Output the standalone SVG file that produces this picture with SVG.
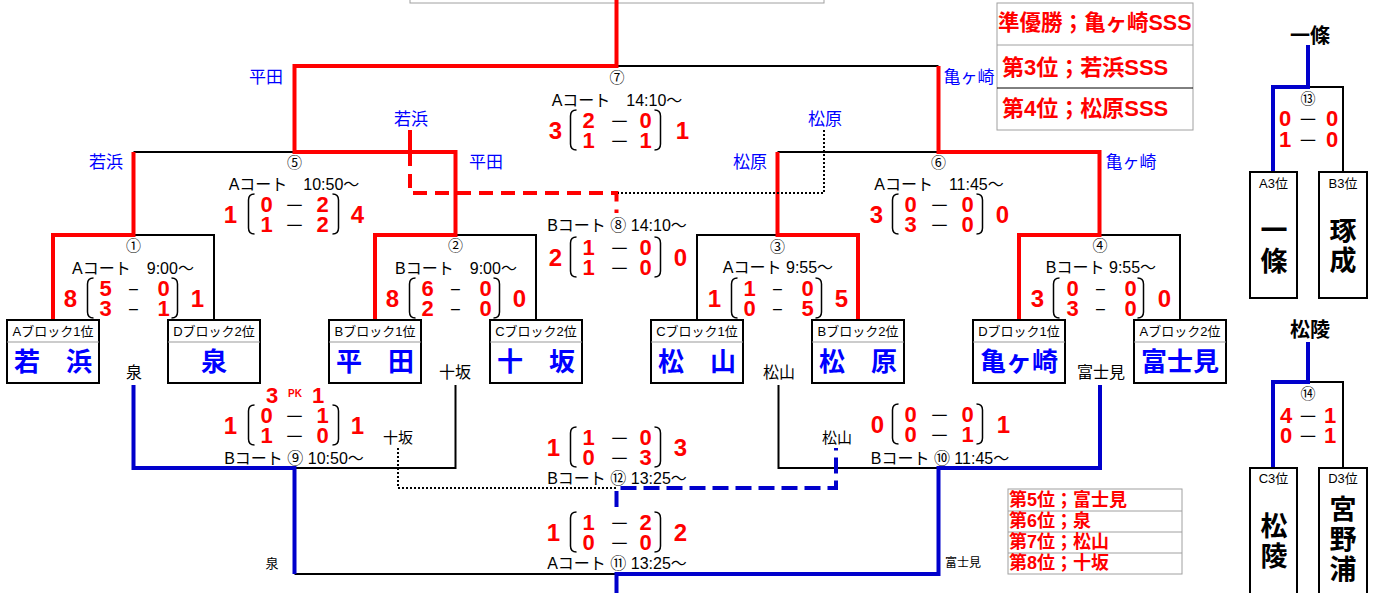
<svg xmlns="http://www.w3.org/2000/svg" width="1378" height="593" viewBox="0 0 1378 593">
<style>
text{font-family:"Liberation Sans","Noto Sans CJK JP",sans-serif;text-anchor:middle;dominant-baseline:central}
.r{stroke:#ff0000;stroke-width:4;fill:none}
.k{stroke:#000;stroke-width:2;fill:none}
.b{stroke:#0000cc;stroke-width:4;fill:none}
.rd{stroke:#ff0000;stroke-width:4;fill:none;stroke-dasharray:14 8}
.bd{stroke:#0000cc;stroke-width:4;fill:none;stroke-dasharray:16 7}
.dt{stroke:#000;stroke-width:2;fill:none;stroke-dasharray:2 2}
.box{fill:#fff;stroke:#000;stroke-width:2}
.hd{stroke:#999;stroke-width:1}
.br{stroke:#000;stroke-width:1.5;fill:none}
.gb{fill:#fff;stroke:#a0a0a0;stroke-width:1}
.sc{fill:#ff0000;font-weight:bold;font-size:22px}
.so{fill:#ff0000;font-weight:bold;font-size:24px}
.ds{font-size:20px;fill:#000;font-weight:normal;font-family:"Noto Sans CJK JP",sans-serif}
.dm{font-size:16px;fill:#000;font-weight:normal}
.pk{fill:#ff0000;font-weight:bold;font-size:10px}
.ct{font-size:16px;fill:#000}
.cn{font-size:15px;fill:#000}
.bl{font-size:17px;fill:#0000ff}
.lb{font-size:16px;fill:#000}
.hdr{font-size:13px;fill:#000}
.nm{font-size:26px;font-weight:bold;fill:#0000ff}
.vn{font-size:27px;font-weight:bold;fill:#000}
.tt{font-size:20px;font-weight:bold;fill:#000}
.rk{fill:#ff0000;font-weight:bold;text-anchor:start}
</style>

<rect class="gb" x="410" y="-10" width="414" height="13" fill="none"/>

<g id="connectors">
  <path class="k" d="M133.5 235 H214 V320"/>
  <path class="k" d="M455.5 235 H536 V320"/>
  <path class="k" d="M697 320 V235 H777.5"/>
  <path class="k" d="M1099.5 235 H1180 V320"/>
  <path class="k" d="M133.5 152 H294.5"/>
  <path class="k" d="M777.5 152 H938.5"/>
  <path class="k" d="M616.5 66 H938.5"/>
  <path class="r" d="M53 320 V235 H133.5 V152"/>
  <path class="r" d="M375 320 V235 H455.5 V152 H294.5 V66 H616.5 V0"/>
  <path class="r" d="M858 320 V235 H777.5 V152"/>
  <path class="r" d="M1019 320 V235 H1099.5 V152 H938.5 V66"/>
  <path class="r" d="M410 130 V152"/>
  <path class="rd" d="M410 152 V193 H616.5 V213"/>
  <path class="dt" d="M824 130 V193 H618"/>
  <path class="k" d="M294.5 468 H455.5 V385"/>
  <path class="k" d="M778.5 385 V468 H938.5"/>
  <path class="k" d="M294.5 574 H616.5"/>
  <path class="b" d="M133.5 385 V468 H294.5 V574"/>
  <path class="b" d="M1100 385 V468 H938.5 V574 H616.5 V593"/>
  <path class="dt" d="M398 448 V488 H616.5"/>
  <path class="bd" d="M616.5 507 V488 H836 V448"/>
  <path class="k" d="M1308 87 H1343 V172"/>
  <path class="b" d="M1308 45 V87 H1273 V172"/>
  <path class="k" d="M1308 382 H1343 V468"/>
  <path class="b" d="M1308 342 V382 H1273 V468"/>
</g>

<g id="team-wakahama"><rect class="box" x="7" y="320" width="92" height="63"/><line class="hd" x1="7" y1="342" x2="99" y2="342"/><text class="hdr" x="53" y="331">Aブロック1位</text><text class="nm" x="53" y="362">若　浜</text></g>
<g id="team-izumi"><rect class="box" x="168" y="320" width="92" height="63"/><line class="hd" x1="168" y1="342" x2="260" y2="342"/><text class="hdr" x="214" y="331">Dブロック2位</text><text class="nm" x="214" y="362">泉</text></g>
<g id="team-hirata"><rect class="box" x="329" y="320" width="92" height="63"/><line class="hd" x1="329" y1="342" x2="421" y2="342"/><text class="hdr" x="375" y="331">Bブロック1位</text><text class="nm" x="375" y="362">平　田</text></g>
<g id="team-tosaka"><rect class="box" x="490" y="320" width="92" height="63"/><line class="hd" x1="490" y1="342" x2="582" y2="342"/><text class="hdr" x="536" y="331">Cブロック2位</text><text class="nm" x="536" y="362">十　坂</text></g>
<g id="team-matsuyama"><rect class="box" x="651" y="320" width="92" height="63"/><line class="hd" x1="651" y1="342" x2="743" y2="342"/><text class="hdr" x="697" y="331">Cブロック1位</text><text class="nm" x="697" y="362">松　山</text></g>
<g id="team-matsubara"><rect class="box" x="812" y="320" width="92" height="63"/><line class="hd" x1="812" y1="342" x2="904" y2="342"/><text class="hdr" x="858" y="331">Bブロック2位</text><text class="nm" x="858" y="362">松　原</text></g>
<g id="team-kamegasaki"><rect class="box" x="973" y="320" width="92" height="63"/><line class="hd" x1="973" y1="342" x2="1065" y2="342"/><text class="hdr" x="1019" y="331">Dブロック1位</text><text class="nm" x="1019" y="362">亀ヶ崎</text></g>
<g id="team-fujimi"><rect class="box" x="1134" y="320" width="92" height="63"/><line class="hd" x1="1134" y1="342" x2="1226" y2="342"/><text class="hdr" x="1180" y="331">Aブロック2位</text><text class="nm" x="1180" y="362">富士見</text></g>

<g id="labels">
  <text class="bl" x="266" y="77">平田</text>
  <text class="bl" x="969" y="77">亀ヶ崎</text>
  <text class="bl" x="106" y="162">若浜</text>
  <text class="bl" x="486" y="162">平田</text>
  <text class="bl" x="411" y="119">若浜</text>
  <text class="bl" x="825" y="119">松原</text>
  <text class="bl" x="750" y="162">松原</text>
  <text class="bl" x="1131" y="162">亀ヶ崎</text>
  <text class="lb" x="134" y="372">泉</text>
  <text class="lb" x="455" y="372">十坂</text>
  <text class="lb" x="779" y="372">松山</text>
  <text class="lb" x="1101" y="372">富士見</text>
  <text class="cn" x="398" y="437">十坂</text>
  <text class="cn" x="837" y="437">松山</text>
  <text class="hdr" x="272" y="563">泉</text>
  <text style="font-size:12px" x="963" y="563">富士見</text>
</g>

<g id="m1">
  <text class="cn" x="133.5" y="245">①</text>
  <text class="ct" x="133" y="268">Aコート　9:00～</text>
  <g transform="translate(133.5,298)">
    <text class="so" x="-63" y="0">8</text>
    <path class="br" d="M-40 -20 Q-46 -20 -46 -14 V14 Q-46 20 -40 20 M38 -20 Q44 -20 44 -14 V14 Q44 20 38 20"/>
    <text><tspan class="sc" x="-28" y="-10">5</tspan><tspan class="dm" x="0" y="-10">–</tspan><tspan class="sc" x="30" y="-10">0</tspan><tspan class="sc" x="-28" y="10">3</tspan><tspan class="dm" x="0" y="10">–</tspan><tspan class="sc" x="30" y="10">1</tspan></text>
    <text class="so" x="64" y="0">1</text>
  </g>
</g>
<g id="m2">
  <text class="cn" x="455.5" y="245">②</text>
  <text class="ct" x="456" y="268">Bコート　9:00～</text>
  <g transform="translate(455.5,298)">
    <text class="so" x="-63" y="0">8</text>
    <path class="br" d="M-40 -20 Q-46 -20 -46 -14 V14 Q-46 20 -40 20 M38 -20 Q44 -20 44 -14 V14 Q44 20 38 20"/>
    <text><tspan class="sc" x="-28" y="-10">6</tspan><tspan class="dm" x="0" y="-10">–</tspan><tspan class="sc" x="30" y="-10">0</tspan><tspan class="sc" x="-28" y="10">2</tspan><tspan class="dm" x="0" y="10">–</tspan><tspan class="sc" x="30" y="10">0</tspan></text>
    <text class="so" x="64" y="0">0</text>
  </g>
</g>
<g id="m3">
  <text class="cn" x="777.5" y="246">③</text>
  <text class="ct" x="778" y="267">Aコート 9:55～</text>
  <g transform="translate(777.5,298)">
    <text class="so" x="-63" y="0">1</text>
    <path class="br" d="M-40 -20 Q-46 -20 -46 -14 V14 Q-46 20 -40 20 M38 -20 Q44 -20 44 -14 V14 Q44 20 38 20"/>
    <text><tspan class="sc" x="-28" y="-10">1</tspan><tspan class="dm" x="0" y="-10">–</tspan><tspan class="sc" x="30" y="-10">0</tspan><tspan class="sc" x="-28" y="10">0</tspan><tspan class="dm" x="0" y="10">–</tspan><tspan class="sc" x="30" y="10">5</tspan></text>
    <text class="so" x="64" y="0">5</text>
  </g>
</g>
<g id="m4">
  <text class="cn" x="1100" y="245">④</text>
  <text class="ct" x="1101" y="267">Bコート 9:55～</text>
  <g transform="translate(1099.5,298)">
    <text class="so" x="-62" y="0">3</text>
    <path class="br" d="M-40 -20 Q-46 -20 -46 -14 V14 Q-46 20 -40 20 M38 -20 Q44 -20 44 -14 V14 Q44 20 38 20"/>
    <text><tspan class="sc" x="-27" y="-10">0</tspan><tspan class="dm" x="1" y="-10">–</tspan><tspan class="sc" x="31" y="-10">0</tspan><tspan class="sc" x="-27" y="10">3</tspan><tspan class="dm" x="1" y="10">–</tspan><tspan class="sc" x="31" y="10">0</tspan></text>
    <text class="so" x="65" y="0">0</text>
  </g>
</g>
<g id="m5">
  <text class="cn" x="294.5" y="162">⑤</text>
  <text class="ct" x="294" y="184">Aコート　10:50～</text>
  <g transform="translate(294.5,214)">
    <text class="so" x="-64" y="0">1</text>
    <path class="br" d="M-40 -20 Q-46 -20 -46 -14 V14 Q-46 20 -40 20 M38 -20 Q44 -20 44 -14 V14 Q44 20 38 20"/>
    <text><tspan class="sc" x="-28" y="-10">0</tspan><tspan class="ds" x="0" y="-10">－</tspan><tspan class="sc" x="28" y="-10">2</tspan><tspan class="sc" x="-28" y="10">1</tspan><tspan class="ds" x="0" y="10">－</tspan><tspan class="sc" x="28" y="10">2</tspan></text>
    <text class="so" x="63" y="0">4</text>
  </g>
</g>
<g id="m6">
  <text class="cn" x="938.5" y="162">⑥</text>
  <text class="ct" x="939" y="184">Aコート　11:45～</text>
  <g transform="translate(938.5,214)">
    <text class="so" x="-62" y="0">3</text>
    <path class="br" d="M-40 -20 Q-46 -20 -46 -14 V14 Q-46 20 -40 20 M38 -20 Q44 -20 44 -14 V14 Q44 20 38 20"/>
    <text><tspan class="sc" x="-28" y="-10">0</tspan><tspan class="ds" x="1" y="-10">－</tspan><tspan class="sc" x="29" y="-10">0</tspan><tspan class="sc" x="-28" y="10">3</tspan><tspan class="ds" x="1" y="10">－</tspan><tspan class="sc" x="29" y="10">0</tspan></text>
    <text class="so" x="64" y="0">0</text>
  </g>
</g>
<g id="m7">
  <text class="cn" x="617" y="77">⑦</text>
  <text class="ct" x="617" y="100">Aコート　14:10～</text>
  <g transform="translate(616.5,130)">
    <text class="so" x="-61" y="0">3</text>
    <path class="br" d="M-40 -20 Q-46 -20 -46 -14 V14 Q-46 20 -40 20 M38 -20 Q44 -20 44 -14 V14 Q44 20 38 20"/>
    <text><tspan class="sc" x="-28" y="-10">2</tspan><tspan class="ds" x="3" y="-10">－</tspan><tspan class="sc" x="29" y="-10">0</tspan><tspan class="sc" x="-28" y="10">1</tspan><tspan class="ds" x="3" y="10">－</tspan><tspan class="sc" x="29" y="10">1</tspan></text>
    <text class="so" x="66" y="0">1</text>
  </g>
</g>
<g id="m8">
  <text class="ct" x="617" y="225">Bコート ⑧ 14:10～</text>
  <g transform="translate(616.5,257)">
    <text class="so" x="-61" y="0">2</text>
    <path class="br" d="M-40 -20 Q-46 -20 -46 -14 V14 Q-46 20 -40 20 M38 -20 Q44 -20 44 -14 V14 Q44 20 38 20"/>
    <text><tspan class="sc" x="-28" y="-10">1</tspan><tspan class="ds" x="3" y="-10">－</tspan><tspan class="sc" x="29" y="-10">0</tspan><tspan class="sc" x="-28" y="10">1</tspan><tspan class="ds" x="3" y="10">－</tspan><tspan class="sc" x="29" y="10">0</tspan></text>
    <text class="so" x="64" y="0">0</text>
  </g>
</g>
<g id="m9">
  <text class="ct" x="294" y="458">Bコート ⑨ 10:50～</text>
  <g transform="translate(294.5,425)">
    <text class="so" x="-64" y="0">1</text>
    <path class="br" d="M-40 -20 Q-46 -20 -46 -14 V14 Q-46 20 -40 20 M38 -20 Q44 -20 44 -14 V14 Q44 20 38 20"/>
    <text><tspan class="sc" x="-22.5" y="-30">3</tspan><tspan class="pk" x="0.5" y="-32">PK</tspan><tspan class="sc" x="23.5" y="-30">1</tspan><tspan class="sc" x="-28" y="-10">0</tspan><tspan class="ds" x="0" y="-10">－</tspan><tspan class="sc" x="28" y="-10">1</tspan><tspan class="sc" x="-28" y="10">1</tspan><tspan class="ds" x="0" y="10">－</tspan><tspan class="sc" x="28" y="10">0</tspan></text>
    <text class="so" x="63" y="0">1</text>
  </g>
</g>
<g id="m10">
  <text class="ct" x="940" y="458">Bコート ⑩ 11:45～</text>
  <g transform="translate(938.5,424)">
    <text class="so" x="-61" y="0">0</text>
    <path class="br" d="M-40 -20 Q-46 -20 -46 -14 V14 Q-46 20 -40 20 M38 -20 Q44 -20 44 -14 V14 Q44 20 38 20"/>
    <text><tspan class="sc" x="-28" y="-10">0</tspan><tspan class="ds" x="1" y="-10">－</tspan><tspan class="sc" x="29" y="-10">0</tspan><tspan class="sc" x="-28" y="10">0</tspan><tspan class="ds" x="1" y="10">－</tspan><tspan class="sc" x="29" y="10">1</tspan></text>
    <text class="so" x="65" y="0">1</text>
  </g>
</g>
<g id="m12">
  <text class="ct" x="617" y="478">Bコート ⑫ 13:25～</text>
  <g transform="translate(616.5,447)">
    <text class="so" x="-63" y="0">1</text>
    <path class="br" d="M-40 -20 Q-46 -20 -46 -14 V14 Q-46 20 -40 20 M38 -20 Q44 -20 44 -14 V14 Q44 20 38 20"/>
    <text><tspan class="sc" x="-28" y="-10">1</tspan><tspan class="ds" x="3" y="-10">－</tspan><tspan class="sc" x="29" y="-10">0</tspan><tspan class="sc" x="-28" y="10">0</tspan><tspan class="ds" x="3" y="10">－</tspan><tspan class="sc" x="29" y="10">3</tspan></text>
    <text class="so" x="64" y="0">3</text>
  </g>
</g>
<g id="m11">
  <text class="ct" x="617" y="563">Aコート ⑪ 13:25～</text>
  <g transform="translate(616.5,532)">
    <text class="so" x="-63" y="0">1</text>
    <path class="br" d="M-40 -20 Q-46 -20 -46 -14 V14 Q-46 20 -40 20 M38 -20 Q44 -20 44 -14 V14 Q44 20 38 20"/>
    <text><tspan class="sc" x="-28" y="-10">1</tspan><tspan class="ds" x="3" y="-10">－</tspan><tspan class="sc" x="29" y="-10">2</tspan><tspan class="sc" x="-28" y="10">0</tspan><tspan class="ds" x="3" y="10">－</tspan><tspan class="sc" x="29" y="10">0</tspan></text>
    <text class="so" x="64" y="0">2</text>
  </g>
</g>

<g id="ranking-top">
  <rect class="gb" x="997" y="3" width="196" height="127"/>
  <line x1="997" y1="45" x2="1193" y2="45" stroke="#a0a0a0" stroke-width="1"/>
  <line x1="997" y1="88" x2="1193" y2="88" stroke="#000" stroke-width="1"/>
  <text class="rk" style="font-size:21.5px" x="998" y="23">準優勝；亀ヶ崎SSS</text>
  <text class="rk" style="font-size:22px" x="1002" y="67">第3位；若浜SSS</text>
  <text class="rk" style="font-size:22px" x="1002" y="108">第4位；松原SSS</text>
</g>
<g id="ranking-bottom">
  <rect class="gb" x="1008" y="489" width="174" height="85"/>
  <line x1="1008" y1="511" x2="1182" y2="511" stroke="#a0a0a0" stroke-width="1"/>
  <line x1="1008" y1="532" x2="1182" y2="532" stroke="#a0a0a0" stroke-width="1"/>
  <line x1="1008" y1="553" x2="1182" y2="553" stroke="#a0a0a0" stroke-width="1"/>
  <text class="rk" style="font-size:18px" x="1009" y="500">第5位；富士見</text>
  <text class="rk" style="font-size:18px" x="1009" y="521">第6位；泉</text>
  <text class="rk" style="font-size:18px" x="1009" y="542">第7位；松山</text>
  <text class="rk" style="font-size:18px" x="1009" y="563">第8位；十坂</text>
</g>

<g id="m13">
  <text class="tt" x="1310" y="36">一條</text>
  <text class="cn" x="1308" y="98">⑬</text>
  <text><tspan class="sc" x="1285" y="118">0</tspan><tspan class="ds" x="1308" y="118">－</tspan><tspan class="sc" x="1332" y="118">0</tspan><tspan class="sc" x="1285" y="139">1</tspan><tspan class="ds" x="1308" y="139">－</tspan><tspan class="sc" x="1332" y="139">0</tspan></text>
</g>
<g id="team-ichijo"><rect class="box" x="1250" y="172" width="47" height="126"/><text class="hdr" x="1273.5" y="183">A3位</text><text class="vn"><tspan x="1274" y="231">一</tspan><tspan x="1274" y="262">條</tspan></text></g>
<g id="team-takusei"><rect class="box" x="1319" y="172" width="48" height="126"/><text class="hdr" x="1343" y="183">B3位</text><text class="vn"><tspan x="1343" y="232">琢</tspan><tspan x="1343" y="261">成</tspan></text></g>

<g id="m14">
  <text class="tt" x="1310" y="330">松陵</text>
  <text class="cn" x="1308" y="393">⑭</text>
  <text><tspan class="sc" x="1286" y="415">4</tspan><tspan class="ds" x="1308" y="415">－</tspan><tspan class="sc" x="1330" y="415">1</tspan><tspan class="sc" x="1286" y="435">0</tspan><tspan class="ds" x="1308" y="435">－</tspan><tspan class="sc" x="1330" y="435">1</tspan></text>
</g>
<g id="team-shoryo"><rect class="box" x="1250" y="468" width="47" height="140"/><text class="hdr" x="1273.5" y="478">C3位</text><text class="vn"><tspan x="1274" y="527">松</tspan><tspan x="1274" y="557">陵</tspan></text></g>
<g id="team-miyanoura"><rect class="box" x="1319" y="468" width="48" height="140"/><text class="hdr" x="1343" y="478">D3位</text><text class="vn"><tspan x="1343" y="510">宮</tspan><tspan x="1343" y="540">野</tspan><tspan x="1343" y="570">浦</tspan></text></g>
</svg>
